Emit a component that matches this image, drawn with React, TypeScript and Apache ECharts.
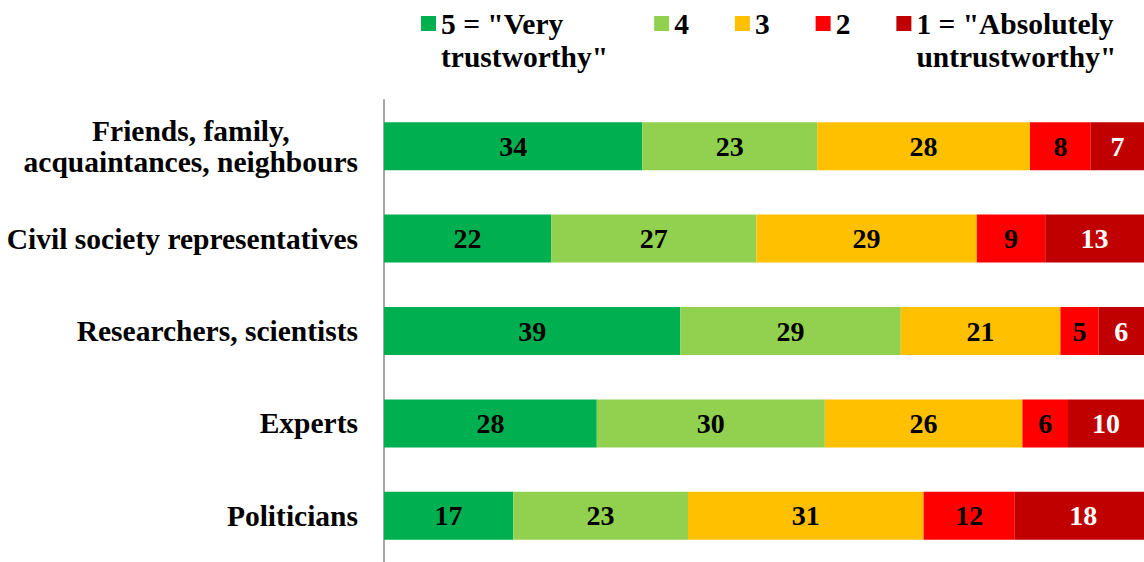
import React, { useEffect, useRef } from "react";
import * as echarts from "echarts";

const categories = [
  "Friends, family,\nacquaintances, neighbours",
  "Civil society representatives",
  "Researchers, scientists",
  "Experts",
  "Politicians",
];
const seriesNames = [
  '5 = "Very\ntrustworthy"',
  "4",
  "3",
  "2",
  '1 = "Absolutely\nuntrustworthy"',
];
const v5 = [34, 22, 39, 28, 17];
const v4 = [23, 27, 29, 30, 23];
const v3 = [28, 29, 21, 26, 31];
const v2 = [8, 9, 5, 6, 12];
const v1 = [7, 13, 6, 10, 18];
const colors = ["#00B050", "#92D050", "#FFC000", "#FF0000", "#C00000"];
const labelColors = ["#000000", "#000000", "#000000", "#000000", "#FFFFFF"];

const FONT = '"Liberation Serif", "Times New Roman", serif';

export default function App() {
  const ref = useRef<HTMLDivElement>(null);
  useEffect(() => {
    if (!ref.current) return;
    const chart = echarts.init(ref.current, undefined, { renderer: "svg" });
    const values = [v5, v4, v3, v2, v1];
    chart.setOption({
      animation: false,
      legend: {
        left: 421,
        top: -26,
        padding: 0,
        itemWidth: 15,
        itemHeight: 15,
        itemGap: 46,
        icon: "rect",
        formatter: (name: string) => (name.includes("\n") ? "\n" + name : name),
        textStyle: {
          fontFamily: FONT,
          fontSize: 29.5,
          fontWeight: "bold",
          color: "#000",
          lineHeight: 33,
        },
        data: seriesNames,
      },
      grid: { left: 384, right: -12, top: 100, bottom: -6, containLabel: false },
      xAxis: { type: "value", min: 0, max: 100, show: false },
      yAxis: {
        type: "category",
        inverse: true,
        data: categories,
        axisTick: { show: false },
        axisLine: { show: true, lineStyle: { color: "#A6A6A6", width: 2 } },
        axisLabel: {
          margin: 26,
          fontFamily: FONT,
          fontSize: 29.5,
          fontWeight: "bold",
          color: "#000",
          lineHeight: 31,
          formatter: (v: string) =>
            v.includes("\n")
              ? v
                  .split("\n")
                  .map((l) => `{c|${l}}`)
                  .join("\n")
              : v,
          rich: {
            c: {
              align: "center",
              fontFamily: FONT,
              fontSize: 29.5,
              fontWeight: "bold",
              color: "#000",
              lineHeight: 31,
            },
          },
        },
      },
      series: seriesNames.map((n, i) => ({
        name: n,
        type: "bar",
        stack: "total",
        barWidth: 48,
        clip: false,
        itemStyle: { color: colors[i] },
        label: {
          show: true,
          position: "inside",
          fontFamily: FONT,
          fontSize: 28,
          fontWeight: "bold",
          color: labelColors[i],
        },
        data: values[i],
      })),
    });
    return () => chart.dispose();
  }, []);
  return (
    <div
      ref={ref}
      style={{ position: "fixed", left: 0, top: 0, width: 1144, height: 562, background: "#fff" }}
    />
  );
}
